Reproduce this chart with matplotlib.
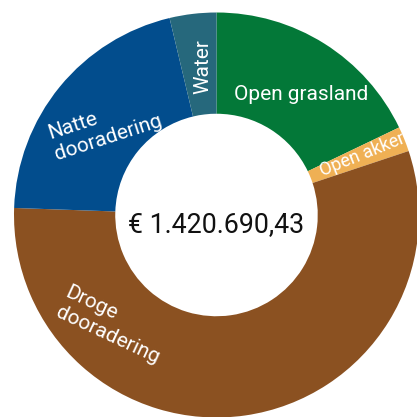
import matplotlib
matplotlib.use("Agg")
import matplotlib.pyplot as plt

plt.rcParams['font.family'] = ['Roboto', 'DejaVu Sans']

# Data (euro amounts per land-use category)
categories = ["Open grasland", "Open akker", "Droge\ndooradering", "Natte\ndooradering", "Water"]
values = [254100, 28400, 790900, 294400, 52900]
colors = ["#037838", "#EFB054", "#8B5121", "#024D8D", "#26687C"]
total_label = "€ 1.420.690,43"

# Label placement (data coords) and rotation
label_pos = [(0.42, 0.593), (0.72, 0.298), (-0.516, -0.543), (-0.551, 0.435), (-0.067, 0.731)]
label_rot = [0, 22, -25, 18, 90]
label_size = [15, 13, 15, 15, 15]

W = H = 417
fig = plt.figure(figsize=(W / 100, H / 100), dpi=100)
ax = fig.add_axes([0, 0, 1, 1])

R_px = 202.5
cx, cy = 216.5, 215.0

ax.pie(values, colors=colors, startangle=90, counterclock=False, radius=1.0,
       wedgeprops=dict(width=0.5, linewidth=0))

for lab, (x, y), rot, fs in zip(categories, label_pos, label_rot, label_size):
    ax.text(x, y, lab, color="white", fontsize=fs, rotation=rot,
            ha="center", va="center", multialignment="left",
            rotation_mode="anchor")

ax.text(0, (cy - 232) / R_px, total_label, fontsize=19.3, color="#111111",
        ha="center", va="baseline")

ax.set_xlim(-cx / R_px, (W - cx) / R_px)
ax.set_ylim(-(H - cy) / R_px, cy / R_px)
ax.set_aspect("auto")
ax.axis("off")

fig.savefig("out.png", dpi=100, facecolor="white")
